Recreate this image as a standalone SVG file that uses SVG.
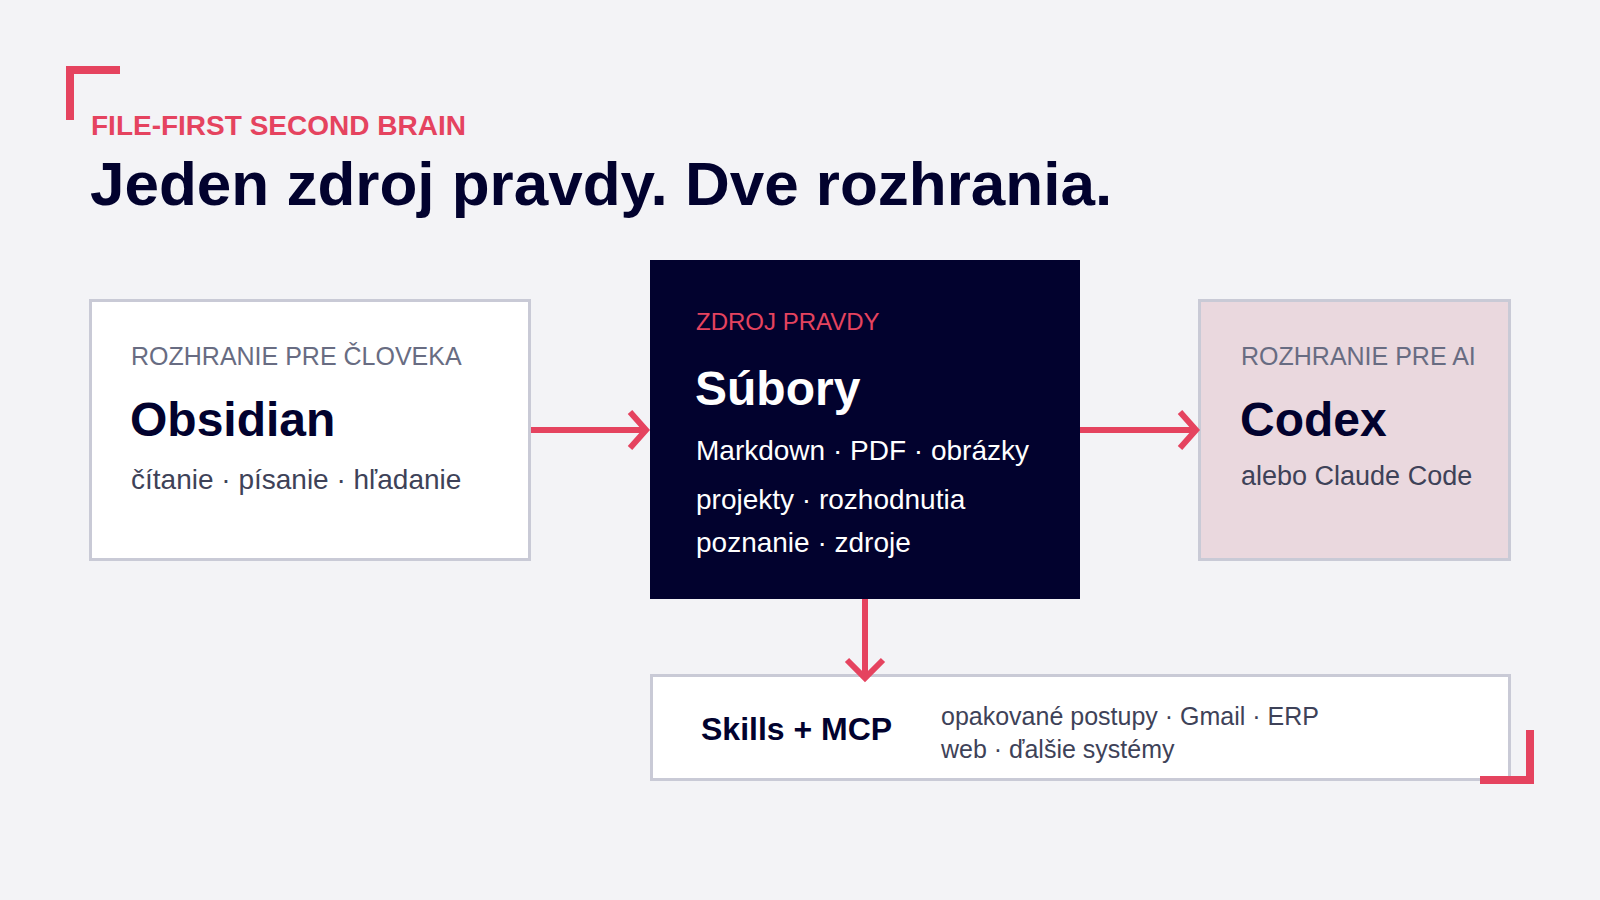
<svg xmlns="http://www.w3.org/2000/svg" width="1600" height="900" viewBox="0 0 1600 900">
<style>
.bg{fill:#f3f3f6}
.box{fill:#ffffff;stroke:#c9cad6;stroke-width:3}
.aibox{fill:#ead8de;stroke:#c9cad6;stroke-width:3}
.dark{fill:#02022e}
.accent{fill:#e5435f}
.lbl{font-family:"Liberation Sans",Arial,sans-serif;font-size:25px;fill:#686c82}
.ttl{font-family:"Liberation Sans",Arial,sans-serif;font-size:48px;font-weight:bold;fill:#02022e}
.sub{font-family:"Liberation Sans",Arial,sans-serif;font-size:28px;fill:#3e4258}
.sub27{font-family:"Liberation Sans",Arial,sans-serif;font-size:27px;fill:#3e4258}
.sub25{font-family:"Liberation Sans",Arial,sans-serif;font-size:25px;fill:#3e4258}
.wt{font-family:"Liberation Sans",Arial,sans-serif;font-size:28px;fill:#ffffff}
.conn{fill:none;stroke:#e5435f;stroke-width:6;stroke-linejoin:miter}
</style>
<rect class="bg" x="0" y="0" width="1600" height="900"/>
<g id="corner-top-left">
<rect class="accent" x="66" y="66" width="54" height="8"/>
<rect class="accent" x="66" y="66" width="8" height="54"/>
</g>
<g id="header">
<text x="91" y="135" font-family="'Liberation Sans',Arial,sans-serif" font-size="28" font-weight="bold" fill="#e5435f">FILE-FIRST SECOND BRAIN</text>
<text x="90" y="205" font-family="'Liberation Sans',Arial,sans-serif" font-size="62" font-weight="bold" fill="#02022e">Jeden zdroj pravdy. Dve rozhrania.</text>
</g>
<g id="node-obsidian">
<rect class="box" x="90.5" y="300.5" width="439" height="259"/>
<text class="lbl" x="131" y="365">ROZHRANIE PRE ČLOVEKA</text>
<text class="ttl" x="130" y="436">Obsidian</text>
<text class="sub" x="131" y="489">čítanie · písanie · hľadanie</text>
</g>
<g id="node-subory">
<rect class="dark" x="650" y="260" width="430" height="339"/>
<text x="696" y="330" font-family="'Liberation Sans',Arial,sans-serif" font-size="24" fill="#e5435f">ZDROJ PRAVDY</text>
<text x="695" y="405" font-family="'Liberation Sans',Arial,sans-serif" font-size="48" font-weight="bold" fill="#ffffff">Súbory</text>
<text class="wt" x="696" y="460">Markdown · PDF · obrázky</text>
<text class="wt" x="696" y="509">projekty · rozhodnutia</text>
<text class="wt" x="696" y="552">poznanie · zdroje</text>
</g>
<g id="node-codex">
<rect class="aibox" x="1199.5" y="300.5" width="310" height="259"/>
<text class="lbl" x="1241" y="365">ROZHRANIE PRE AI</text>
<text class="ttl" x="1240" y="436">Codex</text>
<text class="sub27" x="1241" y="485">alebo Claude Code</text>
</g>
<g id="node-skills">
<rect class="box" x="651.5" y="675.5" width="858" height="104"/>
<text x="701" y="740" font-family="'Liberation Sans',Arial,sans-serif" font-size="32" font-weight="bold" fill="#02022e">Skills + MCP</text>
<text class="sub25" x="941" y="725">opakované postupy · Gmail · ERP</text>
<text class="sub25" x="941" y="758">web · ďalšie systémy</text>
</g>
<g id="connectors">
<line class="conn" x1="531" y1="430" x2="645" y2="430"/>
<polyline class="conn" points="630,412 646,430 630,448"/>
<line class="conn" x1="1080" y1="430" x2="1194" y2="430"/>
<polyline class="conn" points="1180,412 1196,430 1180,448"/>
<line class="conn" x1="865" y1="599" x2="865" y2="676"/>
<polyline class="conn" points="847,660 865,678 883,660"/>
</g>
<g id="corner-bottom-right">
<rect class="accent" x="1480" y="776" width="54" height="8"/>
<rect class="accent" x="1526" y="730" width="8" height="54"/>
</g>
</svg>
